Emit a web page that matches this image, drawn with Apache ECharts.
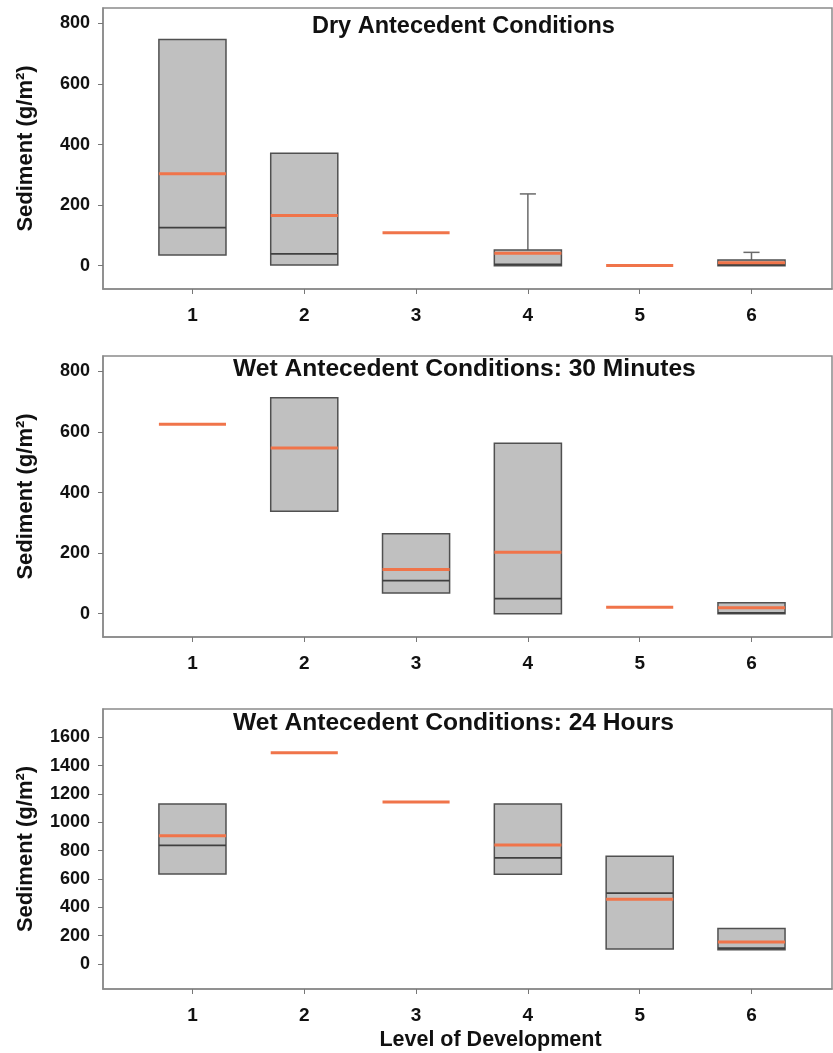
<!DOCTYPE html>
<html>
<head>
<meta charset="utf-8">
<script src="https://cdn.jsdelivr.net/npm/echarts@6/dist/echarts.min.js"></script>
<style>
html,body{margin:0;padding:0;background:#fff;}
#chart{width:833px;height:1053px;}
</style>
</head>
<body>
<div id="chart"></div>
<script>
// ---- Data ----
const categories = [1, 2, 3, 4, 5, 6];
const titles = ['Dry Antecedent Conditions', 'Wet Antecedent Conditions: 30 Minutes', 'Wet Antecedent Conditions: 24 Hours'];
const yTicksSmall = [0, 200, 400, 600, 800];
const yTicksLarge = [0, 200, 400, 600, 800, 1000, 1200, 1400, 1600];

// Dry antecedent
const dryLow     = [35, 2, null, 0, null, 0];
const dryHigh    = [747, 371, null, 52, null, 19];
const dryMedian  = [126, 39, null, 4, null, 3];
const dryMean    = [304, 166, 109, 41, 1, 10];
const dryWhisker = [null, null, null, 237, null, 44];

// Wet antecedent, 30 minutes
const wet30Low     = [null, 338, 68, 0, null, 0];
const wet30High    = [null, 713, 264, 563, null, 36];
const wet30Median  = [null, null, 109, 50, null, 3];
const wet30Mean    = [626, 547, 146, 203, 21, 20];
const wet30Whisker = [null, null, null, null, null, null];

// Wet antecedent, 24 hours
const wet24Low     = [636, null, null, 634, 106, 101];
const wet24High    = [1130, null, null, 1130, 761, 251];
const wet24Median  = [838, null, null, 749, 500, 113];
const wet24Mean    = [906, 1491, 1144, 841, 458, 155];
const wet24Whisker = [null, null, null, null, null, null];

const panels = [
  {low: dryLow, high: dryHigh, median: dryMedian, mean: dryMean, whisker: dryWhisker},
  {low: wet30Low, high: wet30High, median: wet30Median, mean: wet30Mean, whisker: wet30Whisker},
  {low: wet24Low, high: wet24High, median: wet24Median, mean: wet24Mean, whisker: wet24Whisker}
];

// ---- Styling / layout ----
const FONT = '"Liberation Sans", Arial, sans-serif';
const ORANGE = '#f0744a';
const gridsPos = [
  {left: 103, top: 8, height: 281},
  {left: 103, top: 356, height: 281},
  {left: 103, top: 709, height: 280}
];
const yRanges = [[-77, 851], [-77, 851], [-176, 1800]];
const titlePos = [{left: 312, top: 15, size: 23.5}, {left: 233, top: 357, size: 24.6}, {left: 233, top: 711, size: 24.6}];

const chart = echarts.init(document.getElementById('chart'), null, {renderer: 'canvas'});

function makeRender(p) {
  return function (params, api) {
    const i = params.dataIndex;
    const x = categories[i];
    const hw = 0.3;
    const children = [];
    if (p.whisker[i] != null && p.high[i] != null) {
      const a = api.coord([x, p.high[i]]);
      const b = api.coord([x, p.whisker[i]]);
      children.push({type: 'line', shape: {x1: a[0], y1: a[1], x2: b[0], y2: b[1]},
        style: {stroke: '#6a6a6a', lineWidth: 1.5}});
      const c1 = api.coord([x - 0.072, p.whisker[i]]);
      const c2 = api.coord([x + 0.072, p.whisker[i]]);
      children.push({type: 'line', shape: {x1: c1[0], y1: c1[1], x2: c2[0], y2: c2[1]},
        style: {stroke: '#6a6a6a', lineWidth: 1.5}});
    }
    if (p.low[i] != null && p.high[i] != null) {
      const tl = api.coord([x - hw, p.high[i]]);
      const br = api.coord([x + hw, p.low[i]]);
      children.push({type: 'rect', shape: {x: tl[0], y: tl[1], width: br[0] - tl[0], height: br[1] - tl[1]},
        style: {fill: '#c0c0c0', stroke: '#505050', lineWidth: 1.5}});
    }
    if (p.median[i] != null) {
      const a = api.coord([x - hw, p.median[i]]);
      const b = api.coord([x + hw, p.median[i]]);
      children.push({type: 'line', shape: {x1: a[0], y1: a[1], x2: b[0], y2: b[1]},
        style: {stroke: '#404040', lineWidth: 1.8}});
    }
    if (p.mean[i] != null) {
      const a = api.coord([x - hw, p.mean[i]]);
      const b = api.coord([x + hw, p.mean[i]]);
      children.push({type: 'line', shape: {x1: a[0], y1: a[1], x2: b[0], y2: b[1]},
        style: {stroke: ORANGE, lineWidth: 3}});
    }
    return {type: 'group', children: children};
  };
}

const option = {
  backgroundColor: '#fff',
  animation: false,
  title: titles.map((t, k) => ({
    text: t, left: titlePos[k].left, top: titlePos[k].top, padding: 0,
    textStyle: {fontFamily: FONT, fontWeight: 'bold', fontSize: titlePos[k].size, color: '#111'}
  })),
  grid: gridsPos.map(g => ({left: g.left, top: g.top, right: 1, height: g.height,
    show: true, borderColor: '#8a8a8a', borderWidth: 1.5, backgroundColor: 'transparent'})),
  xAxis: gridsPos.map((g, k) => ({
    type: 'value', gridIndex: k, min: 0.2, max: 6.72,
    splitLine: {show: false},
    axisLine: {show: true, onZero: false, lineStyle: {color: '#8a8a8a', width: 1.5}},
    axisTick: {show: true, length: 5, inside: false, customValues: categories, lineStyle: {color: '#777'}},
    axisLabel: {show: true, customValues: categories, margin: 17, fontFamily: FONT, fontWeight: 'bold', fontSize: 19, color: '#111'},
    name: k === 2 ? 'Level of Development' : '',
    nameLocation: 'middle', nameGap: 40,
    nameTextStyle: {fontFamily: FONT, fontWeight: 'bold', fontSize: 21.5, color: '#111', padding: [0, 0, 0, 46]}
  })),
  yAxis: gridsPos.map((g, k) => ({
    type: 'value', gridIndex: k, min: yRanges[k][0], max: yRanges[k][1],
    splitLine: {show: false},
    axisLine: {show: true, onZero: false, lineStyle: {color: '#8a8a8a', width: 1.5}},
    axisTick: {show: true, length: 5, customValues: k === 2 ? yTicksLarge : yTicksSmall, lineStyle: {color: '#777'}},
    axisLabel: {show: true, customValues: k === 2 ? yTicksLarge : yTicksSmall, margin: 13,
      formatter: v => String(v),
      fontFamily: FONT, fontWeight: 'bold', fontSize: 18, color: '#111'},
    name: 'Sediment (g/m²)',
    nameLocation: 'middle', nameGap: 66, nameRotate: 90,
    nameTextStyle: {fontFamily: FONT, fontWeight: 'bold', fontSize: 22, color: '#111'}
  })),
  series: panels.map((p, k) => ({
    type: 'custom', xAxisIndex: k, yAxisIndex: k,
    renderItem: makeRender(p),
    data: categories.map((c, i) => [c, p.mean[i]]),
    clip: false
  }))
};
chart.setOption(option);
</script>
</body>
</html>
